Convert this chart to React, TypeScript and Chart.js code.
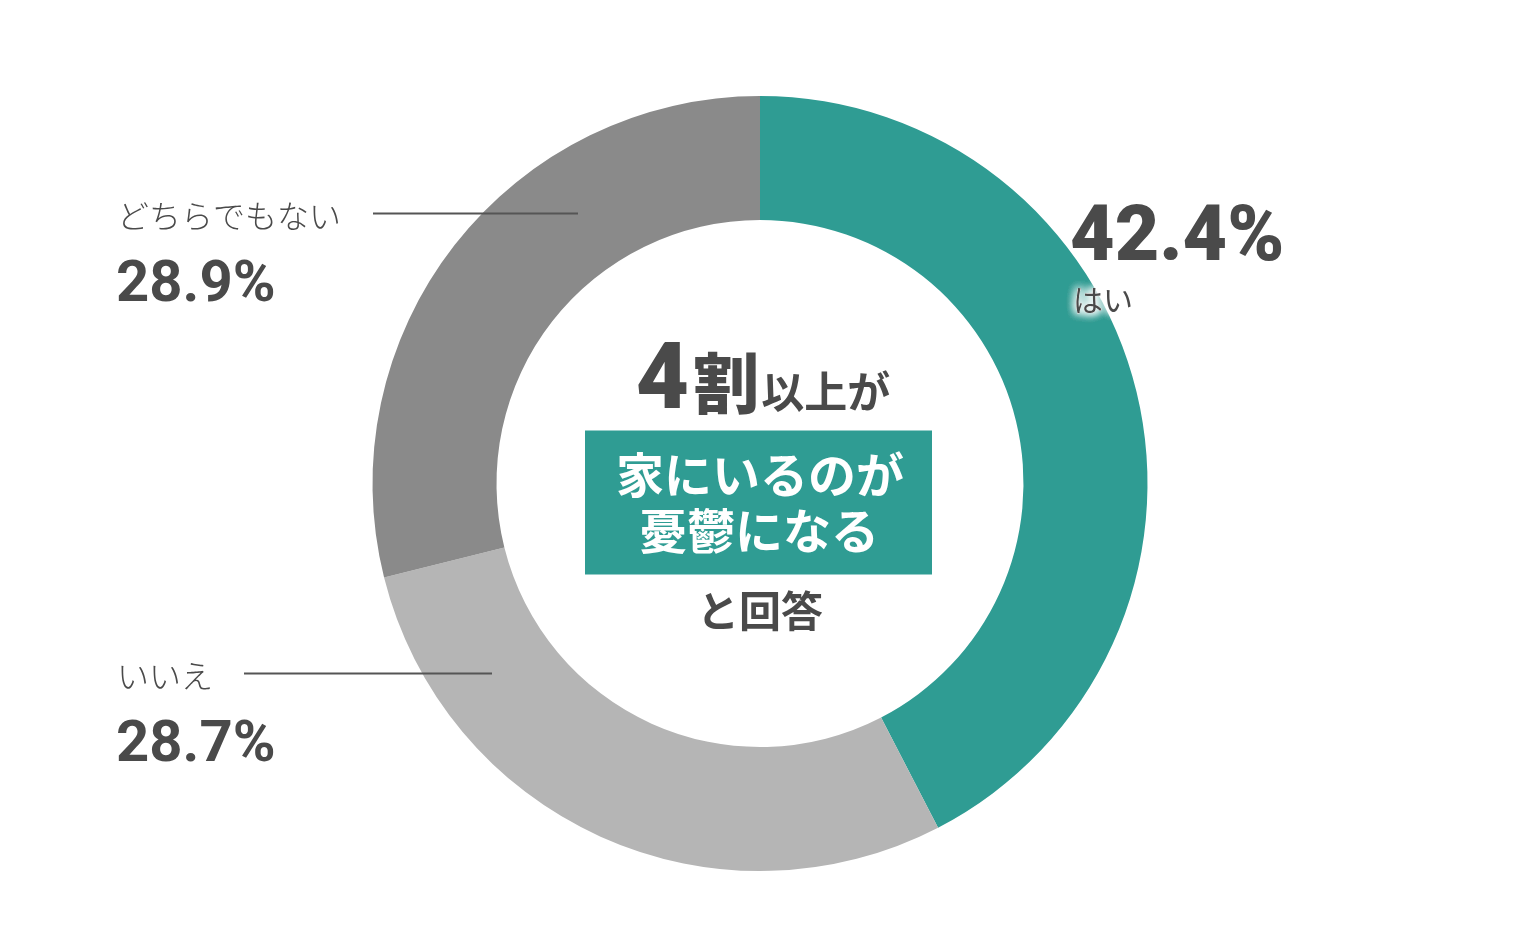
import React, { useEffect, useRef } from "react";
import { Chart, registerables, Plugin } from "chart.js";

Chart.register(...registerables);

// data
const labels = ["はい", "いいえ", "どちらでもない"];
const values = [42.4, 28.7, 28.9];
const sliceColors = ["#2F9C93", "#B5B5B5", "#8A8A8A"];
const headline = ["4", "割", "以上が"];
const boxLines = ["家にいるのが", "憂鬱になる"];
const footer = "と回答";

const TEXT = "#4a4a4a";
const JP = '"Noto Sans CJK JP", "Noto Sans", sans-serif';
const NUM = 'Roboto, "Noto Sans", sans-serif';

const pct = (v: number) => `${v.toFixed(1)}%`;

const labelPlugin: Plugin<"doughnut"> = {
  id: "labelPlugin",
  afterDraw(chart) {
    const ctx = chart.ctx;
    const arc: any = chart.getDatasetMeta(0).data[0];
    if (!arc) return;
    const cx = arc.x;
    const cy = arc.y;
    ctx.save();

    // --- right label (はい)
    ctx.fillStyle = TEXT;
    ctx.textAlign = "left";
    ctx.textBaseline = "alphabetic";
    ctx.font = `900 77px ${NUM}`;
    ctx.fillText(pct(values[0]), cx + 310, cy - 224);
    ctx.font = `400 30px ${JP}`;
    ctx.save();
    ctx.shadowColor = "#ffffff";
    ctx.shadowBlur = 10;
    ctx.fillStyle = "#ffffff";
    for (let i = 0; i < 5; i++) ctx.fillText(labels[0], cx + 313, cy - 173);
    ctx.restore();
    ctx.fillStyle = TEXT;
    ctx.fillText(labels[0], cx + 313, cy - 173);

    // --- left labels with leader lines
    const leftX = 117;
    const left = [
      { i: 2, y: cy - 270, lx0: 373, lx1: 578 },
      { i: 1, y: cy + 190, lx0: 244, lx1: 492 },
    ];
    left.forEach(({ i, y, lx0, lx1 }) => {
      ctx.fillStyle = TEXT;
      ctx.font = `300 32px ${JP}`;
      ctx.textBaseline = "middle";
      ctx.fillText(labels[i], leftX, y + 2);
      ctx.textBaseline = "alphabetic";
      ctx.font = `700 58px ${NUM}`;
      ctx.fillText(pct(values[i]), leftX - 1, y + 87);
      ctx.strokeStyle = "#555555";
      ctx.lineWidth = 2;
      ctx.beginPath();
      ctx.moveTo(lx0, y);
      ctx.lineTo(lx1, y);
      ctx.stroke();
    });

    // --- center headline
    const base = cy - 76;
    const parts = [
      { t: headline[0], f: `900 92px ${NUM}` },
      { t: headline[1], f: `900 66px ${JP}` },
      { t: headline[2], f: `700 43px ${JP}` },
    ];
    let total = 0;
    const widths = parts.map((p) => {
      ctx.font = p.f;
      const w = ctx.measureText(p.t).width;
      total += w;
      return w;
    });
    let x = cx - total / 2;
    ctx.fillStyle = TEXT;
    ctx.textAlign = "left";
    parts.forEach((p, k) => {
      ctx.font = p.f;
      ctx.fillText(p.t, x, base);
      x += widths[k] + (k === 0 ? 4 : 2);
    });

    // teal box
    ctx.fillStyle = sliceColors[0];
    ctx.fillRect(cx - 175, cy - 53, 347, 144);
    ctx.fillStyle = "#ffffff";
    ctx.textAlign = "center";
    ctx.textBaseline = "middle";
    ctx.font = `700 48px ${JP}`;
    ctx.fillText(boxLines[0], cx, cy - 9);
    ctx.fillText(boxLines[1], cx - 1, cy + 47);

    ctx.fillStyle = TEXT;
    ctx.font = `700 42px ${JP}`;
    ctx.fillText(footer, cx, cy + 128);

    ctx.restore();
  },
};

const App: React.FC = () => {
  const canvasRef = useRef<HTMLCanvasElement | null>(null);

  useEffect(() => {
    if (!canvasRef.current) return;
    const chart = new Chart(canvasRef.current, {
      type: "doughnut",
      data: {
        labels,
        datasets: [
          {
            data: values,
            backgroundColor: sliceColors,
            borderWidth: 0,
          },
        ],
      },
      options: {
        responsive: false,
        animation: false,
        cutout: "68%",
        layout: { padding: { top: 96, bottom: 56, left: 0, right: 0 } },
        plugins: {
          legend: { display: false },
          tooltip: { enabled: false },
        },
      },
      plugins: [labelPlugin],
    });
    return () => chart.destroy();
  }, []);

  return (
    <div style={{ position: "absolute", left: 0, top: 0, width: 1520, height: 927, background: "#fff" }}>
      <canvas ref={canvasRef} width={1520} height={927} style={{ width: 1520, height: 927, display: "block" }} />
    </div>
  );
};

export default App;
